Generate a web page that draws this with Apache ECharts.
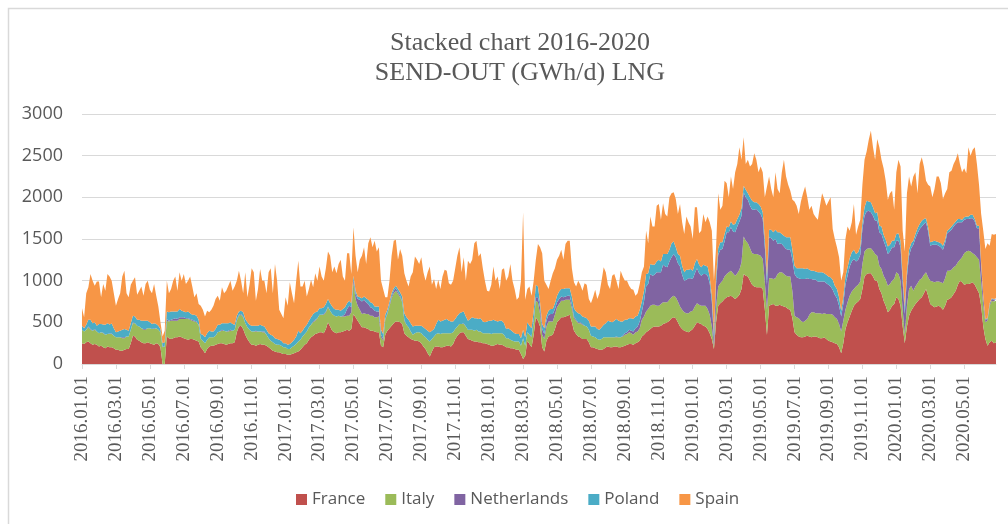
<!DOCTYPE html>
<html>
<head>
<meta charset="utf-8">
<script src="https://cdn.jsdelivr.net/npm/echarts@6/dist/echarts.min.js"></script>
<style>
html,body{margin:0;padding:0;background:#fff;}
#chart{width:1008px;height:524px;}
</style>
</head>
<body>
<div id="chart"></div>
<script>
// Categories: sample dates every ~4 days (days 1,5,9,13,17,21,25,29 of each month), 2016.01 - 2020.06
const categories = [];
for (let y = 2016; y <= 2020; y++) {
  for (let m = 1; m <= 12; m++) {
    if (y === 2020 && m > 6) break;
    const days = [1, 5, 9, 13, 17, 21, 25, (m === 2 && y % 4 !== 0) ? 28 : 29];
    for (const d of days) {
      categories.push(y + '.' + String(m).padStart(2, '0') + '.' + String(d).padStart(2, '0'));
    }
  }
}

const seriesNames = ['France', 'Italy', 'Netherlands', 'Poland', 'Spain'];

const france = [
  // 2016
  250,240,260,270,250,230,240,230, 210,220,200,190,210,200,200,190, 170,170,160,160,170,180,180,250,
  340,330,290,280,260,250,250,260, 250,240,230,250,240,200,0,0, 330,310,300,310,320,320,330,320,
  310,300,290,300,300,290,280,270, 200,170,130,180,210,220,220,230, 240,250,250,240,230,240,250,250,
  260,380,450,460,420,350,300,260, 230,230,220,230,240,230,230,220, 200,180,160,150,140,140,130,120,
  // 2017
  120,110,110,120,130,140,150,170, 200,230,250,290,320,340,360,370, 380,380,370,420,500,450,400,380,
  370,380,380,390,400,410,400,420, 600,560,520,480,440,440,430,420, 400,400,390,380,380,220,200,350,
  400,430,460,490,510,510,500,480, 370,340,320,300,290,280,280,270, 250,210,180,130,90,150,200,210,
  210,200,200,210,220,220,210,240, 300,340,370,380,380,340,300,290, 280,270,270,260,260,250,250,240,
  // 2018
  230,220,220,230,240,230,230,220, 200,200,190,190,180,170,170,120, 60,100,280,240,200,350,560,520,
  450,200,150,280,330,340,350,420, 500,530,560,560,570,580,590,500, 400,360,330,320,300,300,300,260,
  200,200,190,180,170,170,180,200, 210,200,200,210,210,200,200,210, 220,230,240,240,230,250,260,280,
  330,350,380,400,420,440,450,450, 450,460,480,490,500,520,550,560, 550,500,450,420,400,390,380,400,
  // 2019
  420,460,500,490,480,460,450,420, 370,300,180,500,700,730,750,780, 800,810,820,800,780,800,830,900,
  1080,1060,1050,1000,950,930,920,920, 920,900,650,350,700,710,720,700, 700,710,700,690,680,660,650,550,
  380,350,330,320,320,330,340,330, 320,330,330,320,310,310,320,300, 280,270,260,250,240,200,130,250,
  420,500,570,640,700,730,750,780, 900,1050,1080,1090,1090,1050,1000,1000, 900,850,760,700,620,650,700,720,
  // 2020
  800,780,700,450,250,450,580,640, 680,720,750,780,800,850,900,820, 720,700,680,690,700,680,650,700,
  770,780,800,840,880,950,1000,980, 950,960,960,970,980,950,900,850, 700,450,300,220,260,280,250,260
];
const italy = [
  // 2016
  160,150,150,170,160,170,170,160, 160,160,170,160,150,160,160,150, 150,150,160,150,140,150,150,160,
  150,160,170,170,170,160,160,170, 180,180,190,180,170,180,200,210, 190,200,220,210,200,200,210,220,
  230,240,250,230,220,220,220,200, 100,110,120,110,110,100,100,110, 140,140,150,160,160,150,150,150,
  150,140,130,130,140,140,140,150, 160,160,170,160,150,150,150,130, 110,100,100,90,90,90,90,80,
  // 2017
  80,70,70,80,90,100,120,120, 130,130,140,150,150,160,160,180, 210,210,220,200,180,190,200,200,
  200,200,190,180,170,170,180,200, 380,220,180,170,160,170,170,180, 180,180,170,180,190,100,80,180,
  200,260,330,360,370,330,300,260, 150,130,120,90,60,90,100,110, 120,130,140,160,180,150,130,150,
  160,160,170,160,150,150,160,140, 120,110,110,100,100,110,110,120, 130,130,140,130,130,120,120,130,
  // 2018
  140,140,150,140,130,140,140,130, 110,110,100,90,90,100,100,100, 250,120,100,110,120,150,200,220,
  150,150,150,170,180,170,160,170, 180,190,200,200,200,190,180,170, 150,160,160,170,170,160,150,150,
  140,130,130,120,120,130,140,120, 110,120,120,110,110,120,120,120, 130,130,140,130,120,130,130,150,
  200,220,250,260,280,270,260,250, 250,260,260,250,240,250,250,260, 250,250,240,230,220,220,230,230,
  // 2019
  220,230,230,220,220,240,250,240, 220,150,30,180,230,240,250,270, 280,290,300,290,280,290,300,320,
  450,420,400,390,380,390,400,390, 380,360,330,300,330,320,300,330, 380,390,400,390,380,390,400,320,
  200,210,220,200,180,190,200,260, 300,290,280,290,300,290,290,300, 320,330,330,310,300,280,260,270,
  230,240,250,230,200,200,200,210, 300,300,300,300,300,310,320,300, 280,290,300,310,320,310,300,300,
  // 2020
  300,300,300,200,100,250,320,300, 200,210,220,230,230,220,200,220, 280,290,300,300,290,300,320,330,
  350,340,330,320,300,270,250,300, 380,390,400,380,350,360,380,400, 280,250,200,300,440,480,500,500
];
const netherlands = [
  // 2016
  0,0,0,10,10,0,10,0, 0,0,5,0,0,5,5,0, 0,0,0,10,10,0,0,0,
  10,0,0,0,0,10,10,0, 0,0,10,0,0,0,10,0, 20,10,10,20,30,20,20,20,
  20,10,10,10,10,10,10,0, 0,0,0,0,0,0,0,0, 0,0,10,0,0,10,10,0,
  0,10,10,10,10,0,0,0, 0,0,10,0,0,10,10,0, 0,0,0,0,0,0,0,0,
  // 2017
  0,0,0,0,0,0,0,0, 0,0,0,0,0,10,10,0, 0,0,10,10,10,0,0,0,
  0,0,0,10,30,80,120,60, 40,60,80,120,150,160,140,120, 100,90,80,70,60,30,20,10,
  10,20,20,30,30,20,20,10, 10,0,0,0,0,0,0,0, 0,0,0,0,0,0,0,0,
  0,0,0,0,0,0,0,0, 0,0,0,0,10,0,0,0, 0,0,0,0,0,0,0,0,
  // 2018
  0,0,0,0,0,0,0,0, 0,0,0,0,0,0,0,0, 0,0,0,0,10,20,40,60,
  80,70,60,70,80,90,90,70, 60,60,50,40,40,50,50,40, 20,10,10,10,10,0,0,0,
  0,0,0,0,0,0,0,0, 0,0,0,0,10,0,0,10, 20,20,30,30,40,50,60,80,
  100,180,300,300,380,350,360,400, 400,380,450,430,420,460,480,500, 480,460,480,420,380,400,420,400,
  // 2019
  380,400,420,380,360,380,380,400, 380,300,80,280,380,400,380,420, 500,480,520,500,520,560,580,560,
  530,520,520,510,520,530,540,520, 500,480,420,300,490,480,460,470, 360,350,340,330,320,320,320,380,
  500,480,480,500,520,500,490,430, 400,390,400,380,380,390,380,370, 350,330,300,270,250,220,180,200,
  300,320,350,360,360,300,300,320, 420,430,450,450,430,420,400,420, 400,420,420,400,380,390,400,380,
  // 2020
  380,400,400,320,250,350,400,450, 550,580,600,610,620,610,600,550, 420,440,450,440,430,420,400,420,
  450,470,480,490,500,480,450,420, 400,390,380,400,420,400,350,380, 200,100,30,20,20,20,20,20
];
const poland = [
  // 2016
  50,40,60,80,110,90,80,70, 110,100,100,120,130,110,120,90, 60,70,80,90,100,80,70,80,
  80,80,70,80,90,100,100,90, 70,60,60,50,50,40,40,50, 90,100,100,90,80,90,100,80,
  70,70,80,70,60,70,70,60, 60,70,70,80,80,70,70,80, 90,80,80,90,100,90,90,80,
  60,50,40,40,50,50,60,60, 70,70,60,70,80,70,60,60, 60,70,80,70,70,60,60,50,
  // 2017
  50,50,60,60,70,90,130,80, 70,80,80,80,90,90,90,80, 80,80,80,90,90,90,90,80,
  80,70,70,80,80,70,60,50, 40,40,30,30,40,40,50,50, 60,60,50,60,60,60,60,50,
  40,40,40,30,30,40,40,60, 80,90,90,100,100,90,80,80, 90,100,100,110,110,100,90,120,
  160,150,150,160,170,150,140,130, 120,130,130,140,140,120,110,130, 150,150,140,150,160,140,130,140,
  // 2018
  150,160,160,150,140,150,150,140, 110,120,120,110,100,90,90,90, 100,100,120,110,100,120,150,130,
  60,60,70,60,50,60,60,70, 80,90,90,100,100,90,90,100, 100,100,110,100,90,100,100,110,
  110,120,130,120,120,140,150,170, 200,190,180,200,210,200,190,170, 160,150,140,150,150,140,130,140,
  120,130,150,130,120,130,120,130, 150,130,130,150,160,140,170,150, 120,110,130,110,100,120,100,110,
  // 2019
  100,120,110,100,100,110,100,110, 80,70,80,90,80,90,80,90, 70,60,70,80,100,90,80,90,
  80,90,80,100,110,90,80,90, 90,80,100,100,90,100,100,110, 140,130,120,130,140,150,150,120,
  100,110,120,130,130,120,120,110, 100,110,100,110,110,110,100,100, 100,110,120,110,110,100,70,80,
  100,100,100,110,110,90,90,100, 80,100,130,110,120,100,90,100, 80,90,70,80,90,80,80,80,
  // 2020
  80,90,80,80,80,70,70,60, 50,50,60,60,70,60,50,50, 40,40,50,40,40,50,50,40,
  30,30,40,30,30,40,40,30, 30,30,30,40,40,30,30,30, 30,20,10,10,10,10,10,10
];
const spain = [
  // 2016
  210,130,380,390,550,510,440,530, 510,320,485,410,590,575,515,420, 320,390,450,640,700,440,400,460,
  420,470,300,350,410,300,440,480, 390,370,470,340,230,80,80,140, 370,230,270,370,420,250,440,360,
  450,340,370,440,340,210,270,190, 340,300,250,270,220,260,310,360, 350,290,430,360,390,450,500,400,
  460,420,490,360,230,560,300,480, 690,640,300,440,670,540,550,440, 730,800,510,890,700,360,320,300,
  // 2017
  550,470,740,590,440,670,840,560, 530,560,340,380,450,320,470,370, 500,380,320,430,570,570,410,510,
  440,550,610,390,320,600,570,350, 580,420,290,450,510,590,410,680, 780,670,790,660,710,590,540,210,
  150,250,450,570,550,350,520,490, 480,440,400,560,650,830,790,740, 820,660,580,700,790,550,600,420,
  480,390,530,600,580,450,440,490, 610,720,790,480,650,430,720,660, 690,900,930,750,780,640,500,370,
  // 2018
  350,430,640,480,540,380,610,660, 580,620,790,610,530,410,440,690, 1410,450,400,470,390,360,300,510,
  660,850,570,370,260,340,430,420, 430,430,470,350,530,570,570,340, 310,300,390,350,310,410,400,260,
  280,350,440,360,440,560,690,610, 430,390,560,560,460,380,610,540, 470,470,390,350,350,250,270,310,
  350,290,520,360,570,460,460,670, 670,500,610,480,450,630,600,590, 580,480,620,520,460,640,570,510,
  // 2019
  380,670,620,380,440,610,520,600, 650,780,630,350,660,390,440,640, 520,360,540,430,620,660,810,580,
  580,310,400,370,440,590,510,380, 480,480,500,1080,640,490,420,690, 520,470,740,910,730,630,560,600,
  770,750,650,800,900,990,850,720, 780,680,650,630,800,950,890,830, 900,960,610,560,500,480,360,300,
  450,490,330,360,550,230,310,320, 450,570,590,740,860,720,640,880, 940,800,800,710,560,620,600,370,
  // 2020
  740,880,890,550,670,930,880,680, 770,740,420,720,760,630,450,510, 670,530,620,780,790,720,560,560,
  500,680,670,720,740,790,660,570, 590,520,830,710,780,860,740,490, 590,780,840,900,690,770,770,770
];

const yTicks = { min: 0, max: 3000, interval: 500 };
const colors = ['#c0504d', '#9bbb59', '#8064a2', '#4bacc6', '#f79646'];
const seriesData = [france, italy, netherlands, poland, spain];

function isLabelDate(idx, val) {
  const parts = String(val).split('.');
  return parts[2] === '01' && parseInt(parts[1], 10) % 2 === 1;
}

const chart = echarts.init(document.getElementById('chart'));
chart.setOption({
  animation: false,
  backgroundColor: '#ffffff',
  color: colors,
  title: {
    text: 'Stacked chart 2016-2020\nSEND-OUT (GWh/d) LNG',
    left: 515,
    top: 23,
    textAlign: 'center',
    textStyle: {
      fontFamily: 'Liberation Serif',
      fontSize: 26,
      fontWeight: 'normal',
      color: '#595959',
      lineHeight: 30
    }
  },
  graphic: [{
    type: 'polyline',
    silent: true,
    shape: { points: [[8.5, 540], [8.5, 8.5], [1030, 8.5]] },
    style: { stroke: '#d9d9d9', lineWidth: 1.5, fill: null }
  }],
  legend: {
    data: seriesNames,
    left: 291,
    top: 486,
    itemWidth: 11,
    itemHeight: 11,
    itemGap: 20,
    icon: 'rect',
    textStyle: { fontFamily: 'Open Sans', fontSize: 17, color: '#595959' }
  },
  grid: { left: 82, right: 12, top: 114, bottom: 160, containLabel: false },
  xAxis: {
    type: 'category',
    data: categories,
    boundaryGap: false,
    axisLine: { lineStyle: { color: '#d9d9d9', width: 1 } },
    axisTick: { show: true, interval: isLabelDate, length: 5, lineStyle: { color: '#d9d9d9' } },
    axisLabel: {
      interval: isLabelDate,
      rotate: 90,
      margin: 12,
      fontFamily: 'Liberation Serif',
      fontSize: 19,
      color: '#595959'
    },
    splitLine: { show: false }
  },
  yAxis: {
    type: 'value',
    min: yTicks.min,
    max: yTicks.max,
    interval: yTicks.interval,
    axisLine: { show: false },
    axisTick: { show: false },
    axisLabel: {
      fontFamily: 'Open Sans', fontSize: 18, color: '#595959', margin: 19,
      formatter: function (v) { return String(v); }
    },
    splitLine: { lineStyle: { color: '#d9d9d9', width: 1 } }
  },
  series: seriesNames.map((name, i) => ({
    name: name,
    type: 'line',
    stack: 'total',
    data: seriesData[i],
    symbol: 'none',
    showSymbol: false,
    lineStyle: { width: 0 },
    areaStyle: { color: colors[i], opacity: 1 },
    itemStyle: { color: colors[i] },
    z: 2
  }))
});
</script>
</body>
</html>
